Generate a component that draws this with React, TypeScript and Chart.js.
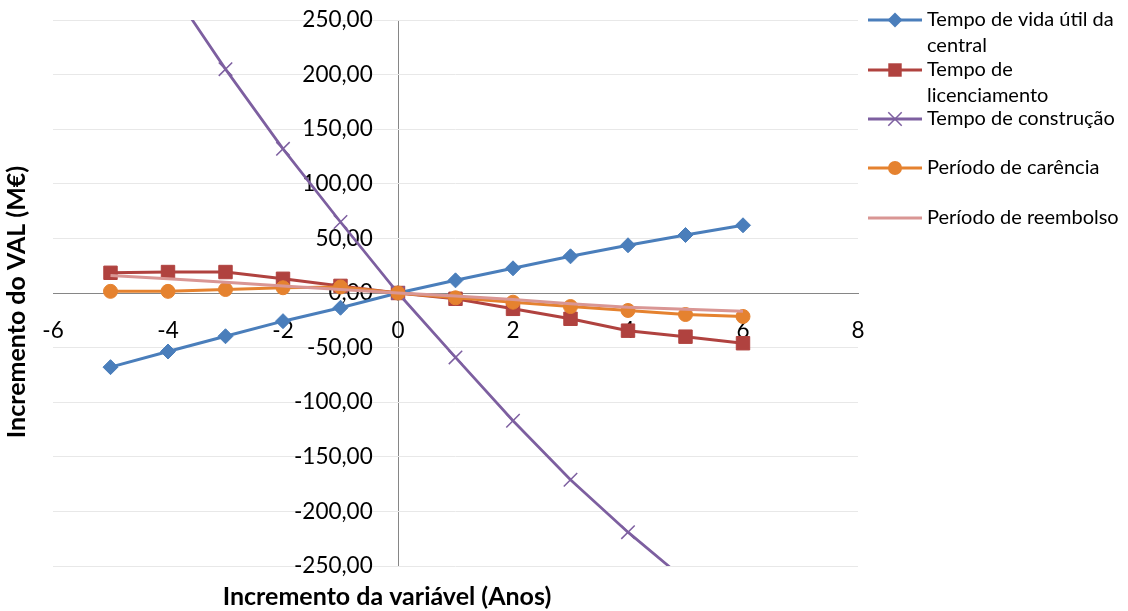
import React, { useEffect, useRef } from 'react';
import { Chart, registerables } from 'chart.js';

Chart.register(...registerables);

// ---- data ----
const xValues = [-5, -4, -3, -2, -1, 0, 1, 2, 3, 4, 5, 6];
const vidaUtil = [-67.9, -53.6, -39.6, -25.8, -13.5, 0, 11.6, 22.6, 33.6, 43.7, 53.1, 62.0];
const licenciamento = [18.5, 19.2, 19.2, 13.0, 6.5, 0, -5.3, -14.5, -23.6, -34.5, -40.0, -46.0];
const construcao = [null, 283, 205, 132, 65, 0, -59, -117, -171, -219, -263, null];
const carencia = [1.5, 1.5, 3.2, 4.8, 5.5, 0, -4.4, -8.4, -12.4, -16.0, -19.7, -21.5];
const reembolso = [16.0, 13.0, 9.9, 6.5, 3.2, 0, -2.8, -6.0, -9.9, -13.0, -14.8, -16.7];

const seriesNames = [
  'Tempo de vida útil da central',
  'Tempo de licenciamento',
  'Tempo de construção',
  'Período de carência',
  'Período de reembolso',
];
const legendLines = [
  ['Tempo de vida útil da', 'central'],
  ['Tempo de', 'licenciamento'],
  ['Tempo de construção'],
  ['Período de carência'],
  ['Período de reembolso'],
];
const xTitle = 'Incremento da variável (Anos)';
const yTitle = 'Incremento do VAL (M€)';
const xMin = -6, xMax = 8, xStep = 2;
const yMin = -250, yMax = 250, yStep = 50;
// the value-axis labels sit a little to the left of the x = 0 line
const yLabelAnchorX = -0.44;

const FONT = 'Lato, "Open Sans", sans-serif';
const colors = ['#4A7EBB', '#B0423F', '#7D5FA0', '#E5822F', '#D99694'];
const markerColors = ['#4A7EBB', '#B0423F', '#7D5FA0', '#E5822F', '#D99694'];
const pointStyles: any[] = ['rectRot', 'rect', 'crossRot', 'circle', false];
const pointRadii = [7.5, 9.5, 9.5, 7, 0];

const toPts = (arr: (number | null)[]) => xValues.map((x, i) => ({ x, y: arr[i] }));

const extrasPlugin = {
  id: 'extras',
  afterDraw(chart: any) {
    const ctx = chart.ctx as CanvasRenderingContext2D;
    ctx.save();
    // axis titles
    ctx.fillStyle = '#000';
    ctx.font = `bold 25px ${FONT}`;
    ctx.textAlign = 'center';
    ctx.textBaseline = 'middle';
    ctx.fillText(xTitle, 387, 597);
    ctx.save();
    ctx.translate(17, 302);
    ctx.rotate(-Math.PI / 2);
    ctx.fillText(yTitle, 0, 0);
    ctx.restore();

    // legend
    const legendY = [20, 70, 119, 168, 218];
    const lx0 = 868, lx1 = 922, tx = 927, lh = 26;
    ctx.font = `20px ${FONT}`;
    ctx.textAlign = 'left';
    legendLines.forEach((lines, i) => {
      const y = legendY[i];
      ctx.strokeStyle = colors[i];
      ctx.lineWidth = 3;
      ctx.beginPath();
      ctx.moveTo(lx0, y);
      ctx.lineTo(lx1, y);
      ctx.stroke();
      const style = pointStyles[i];
      if (style) {
        const cx = (lx0 + lx1) / 2;
        ctx.fillStyle = markerColors[i];
        ctx.strokeStyle = markerColors[i];
        ctx.lineWidth = 1.5;
        const r = pointRadii[i];
        ctx.beginPath();
        if (style === 'rectRot') {
          ctx.moveTo(cx - r, y); ctx.lineTo(cx, y - r); ctx.lineTo(cx + r, y); ctx.lineTo(cx, y + r); ctx.closePath(); ctx.fill();
        } else if (style === 'rect') {
          const s = r * Math.SQRT1_2;
          ctx.rect(cx - s, y - s, 2 * s, 2 * s); ctx.fill();
        } else if (style === 'circle') {
          ctx.arc(cx, y, r, 0, Math.PI * 2); ctx.fill();
        } else if (style === 'crossRot') {
          const s = r * Math.SQRT1_2;
          ctx.moveTo(cx - s, y - s); ctx.lineTo(cx + s, y + s);
          ctx.moveTo(cx + s, y - s); ctx.lineTo(cx - s, y + s);
          ctx.stroke();
        }
      }
      ctx.fillStyle = '#000';
      lines.forEach((t, j) => ctx.fillText(t, tx, y + j * lh));
    });
    ctx.restore();
  },
};

export default function App() {
  const ref = useRef<HTMLCanvasElement>(null);
  useEffect(() => {
    document.body.style.margin = '0';
    const seriesData = [vidaUtil, licenciamento, construcao, carencia, reembolso];
    const datasets = seriesData.map((d, i) => ({
      label: seriesNames[i],
      data: toPts(d),
      borderColor: colors[i],
      backgroundColor: markerColors[i],
      pointBackgroundColor: markerColors[i],
      pointBorderColor: markerColors[i],
      pointBorderWidth: i === 2 ? 1.5 : 1,
      pointStyle: pointStyles[i] || 'circle',
      pointRadius: pointRadii[i],
      borderWidth: i === 2 ? 2.75 : 3,
      tension: 0,
      fill: false,
      order: 5 - i,
      clip: i === 2 ? 0 : undefined,
    }));
    const tickFont = { family: FONT, size: 22.5 };
    const chart = new Chart(ref.current as HTMLCanvasElement, {
      type: 'line',
      data: { datasets } as any,
      options: {
        responsive: false,
        animation: false,
        layout: { padding: { left: 53, right: 270, top: 20, bottom: 45 } },
        plugins: { legend: { display: false }, tooltip: { enabled: false } },
        scales: {
          x: {
            type: 'linear',
            min: xMin,
            max: xMax,
            position: { y: 0 } as any,
            afterFit: (s: any) => { s.height = 0; s.paddingLeft = 0; s.paddingRight = 0; },
            ticks: { stepSize: xStep, padding: 24, color: '#000', font: tickFont, callback: (v: any) => String(v) },
            grid: {
              display: true,
              drawTicks: false,
              color: (c: any) => (c.tick && c.tick.value === 0 ? '#868686' : 'rgba(0,0,0,0)'),
              lineWidth: 1,
            },
            border: { display: true, color: '#868686', width: 1 },
          },
          y: {
            type: 'linear',
            min: yMin,
            max: yMax,
            position: { x: yLabelAnchorX } as any,
            afterFit: (s: any) => { s.width = 0; s.paddingTop = 0; s.paddingBottom = 0; },
            ticks: {
              stepSize: yStep,
              padding: 0,
              color: '#000',
              font: tickFont,
              callback: (v: any) => Number(v).toFixed(2).replace('.', ','),
            },
            grid: {
              drawTicks: false,
              color: (c: any) => (c.tick && c.tick.value === 0 ? '#868686' : '#E8E8E8'),
              lineWidth: 1,
            },
            border: { display: false },
          },
        },
      } as any,
      plugins: [extrasPlugin],
    });
    return () => chart.destroy();
  }, []);
  return (
    <div style={{ width: 1128, height: 611, background: '#fff' }}>
      <canvas ref={ref} width={1128} height={611} />
    </div>
  );
}
